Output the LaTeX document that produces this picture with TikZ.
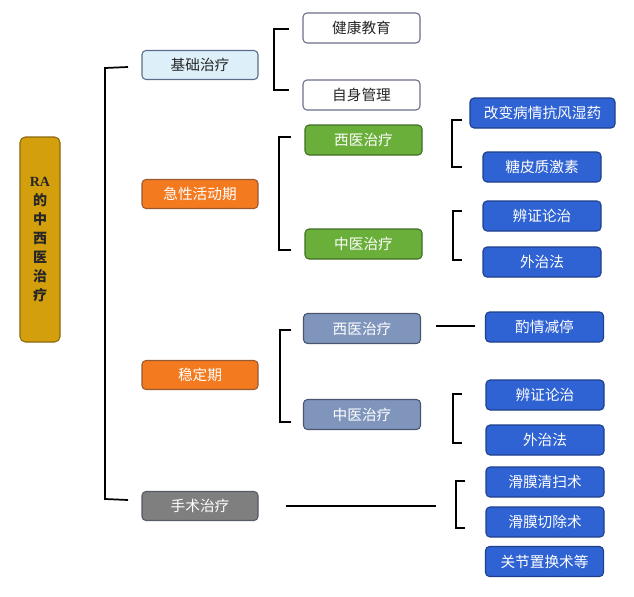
\documentclass[tikz,border=0pt]{standalone}
\usepackage{fontspec}
\setmainfont{Liberation Serif}
\newfontfamily\cjk{Noto Sans CJK SC}
\usetikzlibrary{calc}
\definecolor{gold}{HTML}{D49F0C}
\definecolor{golddk}{HTML}{8A6A10}
\definecolor{lblue}{HTML}{DDF0FA}
\definecolor{lbluedk}{HTML}{5A6E8A}
\definecolor{orng}{HTML}{F47A20}
\definecolor{orngdk}{HTML}{9A5A30}
\definecolor{grn}{HTML}{6AAF3A}
\definecolor{grndk}{HTML}{3F6E25}
\definecolor{blu}{HTML}{2F62D2}
\definecolor{bludk}{HTML}{1E3F8C}
\definecolor{slate}{HTML}{7F95BC}
\definecolor{slatedk}{HTML}{4A5670}
\definecolor{gry}{HTML}{7F7F7F}
\definecolor{grydk}{HTML}{555A66}
\definecolor{wbord}{HTML}{6A6F8C}
\begin{document}
\begin{tikzpicture}[x=0.75pt,y=-0.75pt,
  box/.style={rounded corners=3pt, draw, line width=0.8pt, inner sep=0pt,
    font=\cjk\fontsize{11}{12}\selectfont, minimum height=22.5pt},
  lvone/.style={box, minimum width=87pt, minimum height=21.75pt},
  lvtwo/.style={box, minimum width=87.75pt},
  leaf/.style={box, minimum width=88.5pt, fill=blu, draw=bludk, text=white},
  brk/.style={line width=1.3pt, black},
  lnk/.style={line width=1.5pt, black}]
\fill[white] (0,0) rectangle (634,596);
\useasboundingbox (0,0) rectangle (634,596);

% root
\node[rounded corners=4pt, draw=golddk, line width=0.8pt, fill=gold, minimum width=30pt,
  minimum height=153.75pt, inner sep=0pt, align=center, text=black!85,
  font=\cjk\bfseries\fontsize{10.5}{14.3}\selectfont] (root) at (40,239.5)
  {{\rmfamily\bfseries RA}\\的\\中\\西\\医\\治\\疗};

% level 1
\node[lvone, fill=lblue, draw=lbluedk, text=black!85] (jc) at (200,65) {基础治疗};
\node[lvone, fill=orng, draw=orngdk, text=white] (jx) at (200,194) {急性活动期};
\node[lvone, fill=orng, draw=orngdk, text=white] (wd) at (200,375) {稳定期};
\node[lvone, fill=gry, draw=grydk, text=white] (ss) at (200,506) {手术治疗};

% basic
\node[lvtwo, fill=white, draw=wbord, text=black!85] (jk) at (361.5,28) {健康教育};
\node[lvtwo, fill=white, draw=wbord, text=black!85] (zs) at (361.5,95) {自身管理};

% acute
\node[lvtwo, fill=grn, draw=grndk, text=white] (axy) at (363.5,140) {西医治疗};
\node[lvtwo, fill=grn, draw=grndk, text=white] (azy) at (363.5,244) {中医治疗};
\node[leaf, minimum width=108.75pt] (gb) at (542.5,113) {改变病情抗风湿药};
\node[leaf] (tp) at (542,167) {糖皮质激素};
\node[leaf] (bz1) at (542,216) {辨证论治};
\node[leaf] (wz1) at (542,262) {外治法};

% stable
\node[lvtwo, fill=slate, draw=slatedk, text=white] (sxy) at (362,328.5) {西医治疗};
\node[lvtwo, fill=slate, draw=slatedk, text=white] (szy) at (362,414.5) {中医治疗};
\node[leaf] (zq) at (544.5,327) {酌情减停};
\node[leaf] (bz2) at (545,395) {辨证论治};
\node[leaf] (wz2) at (545,440) {外治法};

% surgery
\node[leaf] (hq) at (545,482) {滑膜清扫术};
\node[leaf] (hc) at (545,522) {滑膜切除术};
\node[leaf] (gj) at (544.5,561.5) {关节置换术等};

% brackets
\draw[brk] (128,67) -- (105,68) -- (105,499) -- (128,500);
\draw[brk] (289,29) -- (274,29) -- (274,90) -- (289,90);
\draw[brk] (291,137) -- (279,137) -- (279,250) -- (291,250);
\draw[brk] (462,120) -- (452,120) -- (452,167) -- (462,167);
\draw[brk] (462,211) -- (453,211) -- (453,260) -- (462,260);
\draw[brk] (291,330) -- (280,330) -- (280,422) -- (291,422);
\draw[brk] (462,394) -- (453,394) -- (453,443) -- (462,443);
\draw[brk] (465,481) -- (456,481) -- (456,528) -- (465,528);

% links
\draw[lnk] ($(sxy.east)+(15,-2.5)$) -- ($(zq.west)+(-10,-1)$);
\draw[lnk] ($(ss.east)+(27,0)$) -- ($(ss.east)+(177,0)$);
\end{tikzpicture}
\end{document}
